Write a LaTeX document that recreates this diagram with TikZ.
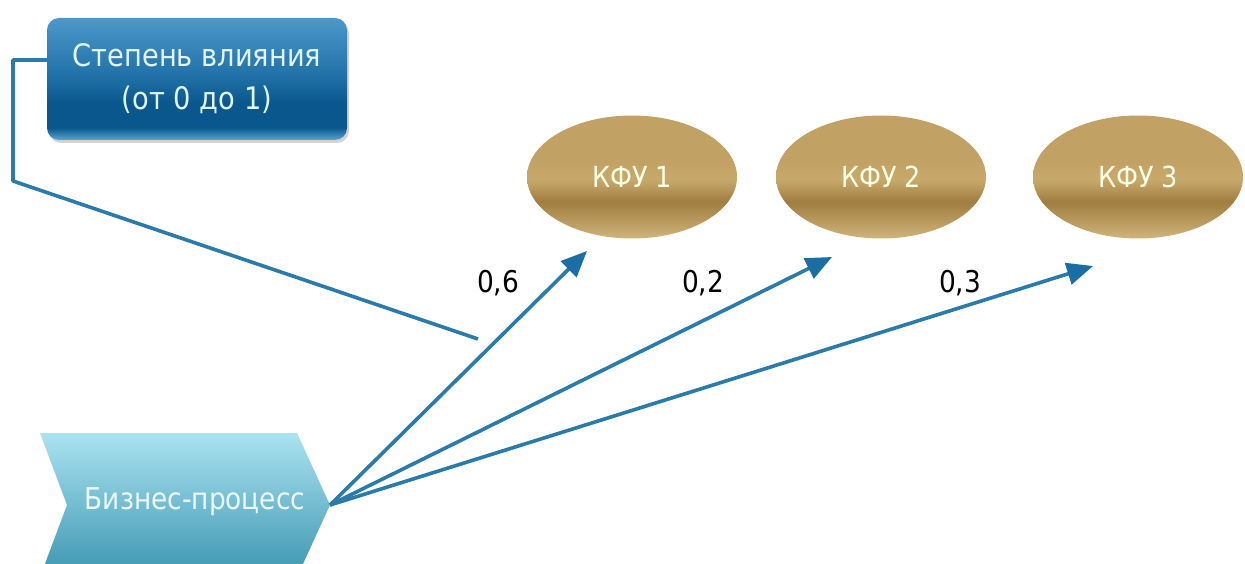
\documentclass[tikz,border=0pt]{standalone}
\usepackage{fontspec}
\setmainfont{DejaVu Sans}[FakeStretch=0.88]
\usetikzlibrary{arrows.meta,shapes.geometric,shadows}

\definecolor{liniya}{HTML}{2A7BAB}
\definecolor{strelka}{HTML}{1B6EA3}
\definecolor{sinV}{HTML}{4C98CA}
\definecolor{sinS}{HTML}{2272A9}
\definecolor{sinT}{HTML}{0A578D}
\definecolor{sinN}{HTML}{5AA6D2}
\definecolor{zolV}{HTML}{C2A264}
\definecolor{zolS}{HTML}{C8A96C}
\definecolor{zolT}{HTML}{A07D40}
\definecolor{zolN}{HTML}{CFB47A}
\definecolor{bpV}{HTML}{ABE3F1}
\definecolor{bpN}{HTML}{3C95B0}

\pgfdeclareverticalshading{sinyaya}{100bp}{color(0bp)=(sinN); color(25bp)=(sinN); color(30bp)=(sinT); color(40bp)=(sinT); color(52bp)=(sinS); color(75bp)=(sinV); color(100bp)=(sinV)}
\pgfdeclareverticalshading{zoloto}{100bp}{color(0bp)=(zolN); color(25bp)=(zolN); color(40bp)=(zolT); color(49bp)=(zolS); color(56bp)=(zolV); color(75bp)=(zolV); color(100bp)=(zolV)}
\pgfdeclareverticalshading{biryuza}{100bp}{color(0bp)=(bpN); color(25bp)=(bpN); color(75bp)=(bpV); color(100bp)=(bpV)}

\tikzset{
	stepbox/.style={rectangle,rounded corners=12pt,shading=sinyaya,minimum width=300pt,minimum height=122pt,align=center,text=white!88!cyan,font=\fontsize{31}{43}\selectfont,drop shadow={shadow xshift=2pt,shadow yshift=-3pt,opacity=.35}},
	kfu/.style={ellipse,shading=zoloto,minimum width=210pt,minimum height=123pt,text=white!90!yellow,font=\fontsize{29}{32}\selectfont},
	ves/.style={font=\fontsize{30}{34}\selectfont},
	svyaz/.style={liniya,line width=3.6pt},
	vliyanie/.style={svyaz,-{Triangle[length=26pt,width=22pt,color=strelka]}}
}

\begin{document}
\begin{tikzpicture}[x=1pt,y=-1pt,line join=round]
	\useasboundingbox (0,0) rectangle (1245,564);
	\begin{scope}
		\clip (0,0) rectangle (1245,564);
		\shade[shading=biryuza] (40,433)--(297,433)--(330,505)--(297,577)--(40,577)--(67,505)--cycle;
	\end{scope}
	\node[text=white!92!cyan,font=\fontsize{30}{34}\selectfont] (bp) at (195,502) {Бизнес-процесс};
	\coordinate (vyhod) at (330,505);

	\node[stepbox] (sv) at (197,79) {Степень влияния\\(от 0 до 1)};
	\coordinate (ugol1) at (13,60); \coordinate (ugol2) at (13,181); \coordinate (konec) at (478,339);
	\draw[svyaz] (sv.west|-ugol1) -- (ugol1) -- (ugol2) -- (konec);

	\node[kfu] (k1) at (632,177) {КФУ 1};
	\node[kfu] (k2) at (881,177) {КФУ 2};
	\node[kfu] (k3) at (1138,177) {КФУ 3};
	\coordinate (c1) at (587,251); \coordinate (c2) at (832,257); \coordinate (c3) at (1093,266);
	\draw[vliyanie] (vyhod) -- (c1);
	\draw[vliyanie] (vyhod) -- (c2);
	\draw[vliyanie] (vyhod) -- (c3);
	\node[ves] (v1) at (498,283) {0,6};
	\node[ves] (v2) at (703,283) {0,2};
	\node[ves] (v3) at (960,283) {0,3};
\end{tikzpicture}
\end{document}
